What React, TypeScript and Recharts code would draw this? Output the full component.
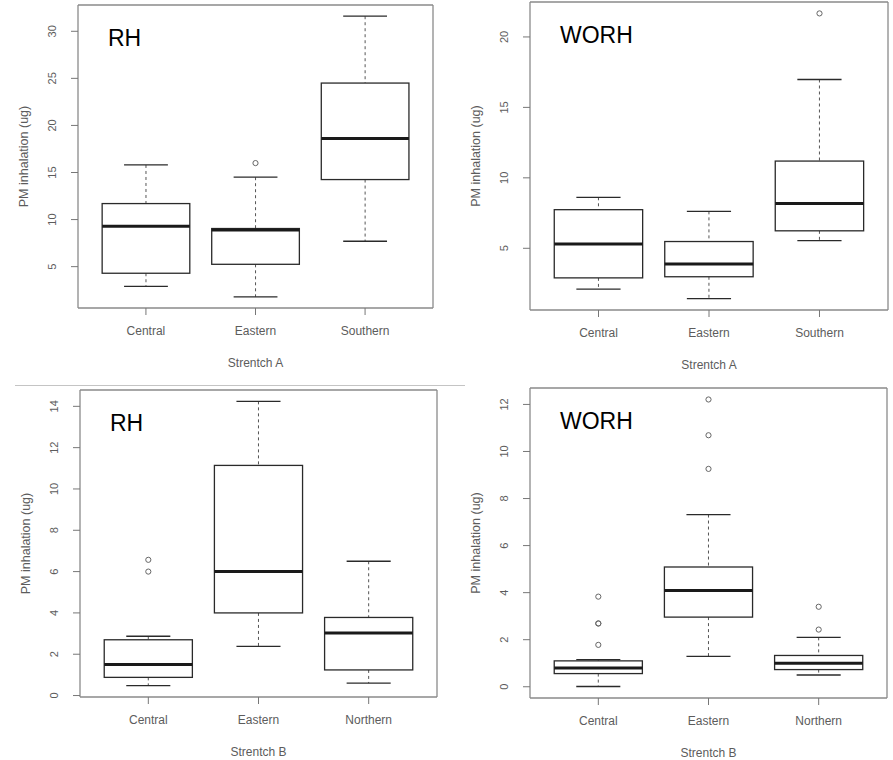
import React from "react";
import { ComposedChart, Bar, Line, XAxis, YAxis, CartesianGrid } from "recharts";

// categories
const CATS_A = ["Central", "Eastern", "Southern"];
const CATS_B = ["Central", "Eastern", "Northern"];

// five-number rows per category: [lower whisker, Q1, median, Q3, upper whisker]
const RH_A = [
  [2.9, 4.3, 9.3, 11.7, 15.8],
  [1.8, 5.25, 8.9, 9.05, 14.5],
  [7.7, 14.25, 18.6, 24.5, 31.6],
];
const RH_A_OUT = [[], [16.0], []];

const WORH_A = [
  [2.1, 2.9, 5.3, 7.74, 8.62],
  [1.43, 2.98, 3.89, 5.48, 7.62],
  [5.55, 6.24, 8.17, 11.19, 16.98],
];
const WORH_A_OUT = [[], [], [21.67]];

const RH_B = [
  [0.48, 0.88, 1.5, 2.7, 2.87],
  [2.38, 4.0, 6.0, 11.14, 14.24],
  [0.6, 1.24, 3.03, 3.78, 6.5],
];
const RH_B_OUT = [[6.0, 6.57], [], []];

const WORH_B = [
  [0.01, 0.56, 0.8, 1.1, 1.15],
  [1.29, 2.96, 4.09, 5.09, 7.32],
  [0.5, 0.73, 1.0, 1.33, 2.1],
];
const WORH_B_OUT = [[1.78, 2.69, 2.69, 3.83], [9.26, 10.69, 12.21], [2.43, 3.4]];

// tick labels
const TICKS_RH_A = [5, 10, 15, 20, 25, 30];
const TICKS_WORH_A = [5, 10, 15, 20];
const TICKS_RH_B = [0, 2, 4, 6, 8, 10, 12, 14];
const TICKS_WORH_B = [0, 2, 4, 6, 8, 10, 12];

const FONT = "'Liberation Sans', Arial, Helvetica, sans-serif";
const BOX = "#2a2a2a";
const TXT = "#5c5c5c";

function BoxShape(props: any) {
  const { x, y, width, height, payload } = props;
  const [lo, hi] = payload.range;
  const yHi = Math.min(y, y + height);
  const yLo = Math.max(y, y + height);
  // linear scale, same as the y axis
  const py = (v: number) => yHi + ((yLo - yHi) * (hi - v)) / (hi - lo);
  const cx = x + width / 2;
  const cap = width / 4;
  return (
    <g>
      <line x1={cx} x2={cx} y1={py(hi)} y2={py(payload.q3)} stroke="#555" strokeDasharray="3 3" />
      <line x1={cx} x2={cx} y1={py(payload.q1)} y2={py(lo)} stroke="#555" strokeDasharray="3 3" />
      <line x1={cx - cap} x2={cx + cap} y1={py(hi)} y2={py(hi)} stroke={BOX} strokeWidth={1.3} />
      <line x1={cx - cap} x2={cx + cap} y1={py(lo)} y2={py(lo)} stroke={BOX} strokeWidth={1.3} />
      <rect
        x={x}
        y={py(payload.q3)}
        width={width}
        height={py(payload.q1) - py(payload.q3)}
        fill="#fff"
        stroke={BOX}
        strokeWidth={1.3}
      />
      <line x1={x} x2={x + width} y1={py(payload.med)} y2={py(payload.med)} stroke="#1a1a1a" strokeWidth={3} />
    </g>
  );
}

function outlierDot(p: any) {
  if (p.value == null || p.cy == null || isNaN(p.cy)) return <g key={`e-${p.index}`} />;
  return <circle key={`o-${p.index}`} cx={p.cx} cy={p.cy} r={2.6} fill="none" stroke="#666" strokeWidth={1} />;
}

interface PanelProps {
  cats: string[];
  stats: number[][];
  outliers: number[][];
  ticks: number[];
  tag: string;
  xTitle: string;
  left: number;
  top: number;
  width: number;
  height: number;
  plotLeft: number;
  plotTop: number;
  plotRight: number;
  plotBottom: number;
}

function Panel(p: PanelProps) {
  const maxOut = Math.max(...p.outliers.map((o) => o.length));
  const slots = Array.from({ length: maxOut }, (_, k) => k);
  const rows = p.cats.map((c, i) => {
    const s = p.stats[i];
    const row: any = { cat: c, range: [s[0], s[4]], q1: s[1], med: s[2], q3: s[3] };
    slots.forEach((k) => {
      row[`o${k}`] = p.outliers[i][k] ?? null;
    });
    return row;
  });

  // R style: data range widened by 4% each side
  const all = p.stats.flat().concat(p.outliers.flat());
  const mn = Math.min(...all);
  const mx = Math.max(...all);
  const ext = (mx - mn) * 0.04;
  const domain = [mn - ext, mx + ext];

  const plotW = p.plotRight - p.plotLeft;
  const unit = plotW / (p.cats.length + 0.24);
  const pad = unit * 0.12;
  const xAxisH = p.height - p.plotBottom;

  return (
    <div style={{ position: "absolute", left: p.left, top: p.top, width: p.width, height: p.height }}>
      <ComposedChart
        width={p.width}
        height={p.height}
        data={rows}
        margin={{ top: p.plotTop, right: p.width - p.plotRight, left: 0, bottom: 0 }}
        barCategoryGap={0}
      >
        <CartesianGrid
          stroke="#8a8a8a"
          strokeWidth={1.3}
          horizontalCoordinatesGenerator={({ offset }: any) => [offset.top, offset.top + offset.height]}
          verticalCoordinatesGenerator={({ offset }: any) => [offset.left, offset.left + offset.width]}
        />
        <XAxis
          dataKey="cat"
          type="category"
          interval={0}
          padding={{ left: pad, right: pad }}
          height={xAxisH}
          axisLine={false}
          tickLine={{ stroke: "#777" }}
          tickSize={7}
          tickMargin={11}
          tick={{ fontSize: 12, fill: TXT, fontFamily: FONT }}
          label={(lp: any) => {
            const vb = lp.viewBox;
            return (
              <text x={vb.x + vb.width / 2} y={vb.y + 59} textAnchor="middle" fontSize={12} fill={TXT} fontFamily={FONT}>
                {p.xTitle}
              </text>
            );
          }}
        />
        <YAxis
          type="number"
          domain={domain}
          allowDataOverflow
          ticks={p.ticks}
          width={p.plotLeft}
          axisLine={false}
          tickLine={{ stroke: "#777" }}
          tickSize={7}
          tickMargin={15}
          tick={(tp: any) => (
            <text
              key={`t-${tp.index}`}
              x={tp.x}
              y={tp.y}
              transform={`rotate(-90 ${tp.x} ${tp.y})`}
              textAnchor="middle"
              fontSize={11}
              fill={TXT}
              fontFamily={FONT}
            >
              {tp.payload.value}
            </text>
          )}
          label={(lp: any) => {
            const vb = lp.viewBox;
            const tx = vb.x + vb.width - 50;
            const ty = vb.y + vb.height / 2;
            return (
              <text
                x={tx}
                y={ty}
                transform={`rotate(-90 ${tx} ${ty})`}
                textAnchor="middle"
                fontSize={12.5}
                fill={TXT}
                fontFamily={FONT}
              >
                PM inhalation (ug)
              </text>
            );
          }}
        />
        <Bar dataKey="range" barSize={unit * 0.8} shape={BoxShape} isAnimationActive={false} />
        {slots.map((k) => (
          <Line
            key={k}
            dataKey={`o${k}`}
            stroke="none"
            dot={outlierDot}
            activeDot={false}
            connectNulls={false}
            legendType="none"
            isAnimationActive={false}
          />
        ))}
      </ComposedChart>
      <div
        style={{
          position: "absolute",
          left: p.plotLeft + 30,
          top: p.plotTop + 22,
          fontFamily: FONT,
          fontSize: 23,
          lineHeight: "23px",
          color: "#000",
        }}
      >
        {p.tag}
      </div>
    </div>
  );
}

export default function App() {
  return (
    <div style={{ position: "absolute", left: 0, top: 0, width: 893, height: 760, background: "#fff", overflow: "hidden" }}>
      <Panel
        cats={CATS_A}
        stats={RH_A}
        outliers={RH_A_OUT}
        ticks={TICKS_RH_A}
        tag="RH"
        xTitle="Strentch A"
        left={0}
        top={0}
        width={445}
        height={380}
        plotLeft={78}
        plotTop={5}
        plotRight={433}
        plotBottom={308}
      />
      <Panel
        cats={CATS_A}
        stats={WORH_A}
        outliers={WORH_A_OUT}
        ticks={TICKS_WORH_A}
        tag="WORH"
        xTitle="Strentch A"
        left={445}
        top={0}
        width={448}
        height={380}
        plotLeft={85}
        plotTop={2}
        plotRight={443}
        plotBottom={310}
      />
      <div style={{ position: "absolute", left: 15, top: 385, width: 450, height: 1, background: "#c4c4c4" }} />
      <Panel
        cats={CATS_B}
        stats={RH_B}
        outliers={RH_B_OUT}
        ticks={TICKS_RH_B}
        tag="RH"
        xTitle="Strentch B"
        left={0}
        top={380}
        width={445}
        height={380}
        plotLeft={80}
        plotTop={10}
        plotRight={437}
        plotBottom={317}
      />
      <Panel
        cats={CATS_B}
        stats={WORH_B}
        outliers={WORH_B_OUT}
        ticks={TICKS_WORH_B}
        tag="WORH"
        xTitle="Strentch B"
        left={445}
        top={380}
        width={448}
        height={380}
        plotLeft={85}
        plotTop={8}
        plotRight={442}
        plotBottom={318}
      />
    </div>
  );
}
